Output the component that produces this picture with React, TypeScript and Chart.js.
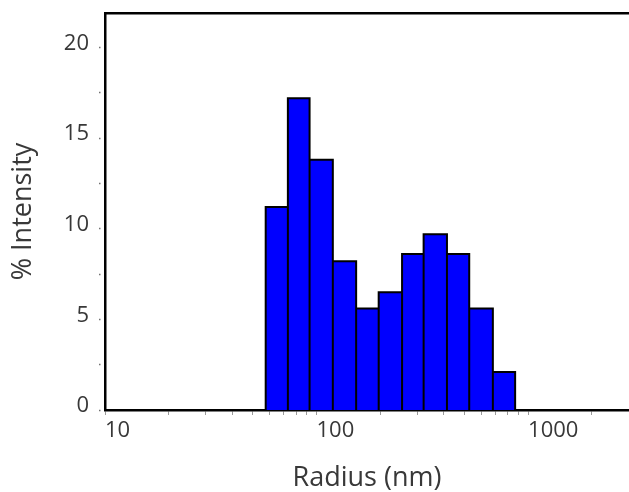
import React, { useEffect, useRef } from "react";
import { Chart, registerables } from "chart.js";

Chart.register(...registerables);

// Bin edges (nm) of the size distribution histogram (log-spaced)
const binEdges = [57.5, 73.2, 92.7, 119.4, 153.9, 196.7, 253.7, 320.8, 413.6, 527, 681.6, 868.6];
// % Intensity in each bin
const intensity = [11.2, 17.2, 13.8, 8.2, 5.6, 6.5, 8.6, 9.7, 8.6, 5.6, 2.1];

// Tick values
const xTickValues = [10, 20, 30, 40, 50, 60, 70, 80, 90, 100, 200, 300, 400, 500, 600, 700, 800, 900, 1000, 2000];
const xTickLabels = [10, 100, 1000];
const yTickValues = [0, 2.5, 5, 7.5, 10, 12.5, 15, 17.5, 20];
const yTickLabels = [0, 5, 10, 15, 20];

const TEXT = "#383838";
const FONT = "'Open Sans', 'Noto Sans', sans-serif";

export default function App() {
  const ref = useRef<HTMLCanvasElement | null>(null);

  useEffect(() => {
    if (!ref.current) return;
    const pts: { x: number; y: number }[] = [];
    intensity.forEach((h, i) => {
      pts.push(
        { x: binEdges[i], y: 0 },
        { x: binEdges[i], y: h },
        { x: binEdges[i + 1], y: h },
        { x: binEdges[i + 1], y: 0 }
      );
    });

    const chart = new Chart(ref.current, {
      type: "line",
      data: {
        datasets: [
          {
            data: pts,
            borderColor: "#000000",
            borderWidth: 2,
            backgroundColor: "#0000ff",
            fill: "origin",
            pointRadius: 0,
            tension: 0,
          },
        ],
      },
      options: {
        animation: false,
        responsive: false,
        events: [],
        layout: { padding: 0 },
        plugins: { legend: { display: false }, tooltip: { enabled: false } },
        scales: {
          x: {
            type: "logarithmic",
            position: "bottom",
            min: 10,
            max: 3000,
            afterBuildTicks: (s: any) => {
              s.ticks = xTickValues.map((v) => ({ value: v }));
            },
            afterFit: (s: any) => {
              s.height = 82;
            },
            border: { display: true, color: "#000000", width: 2.5 },
            grid: {
              drawOnChartArea: false,
              drawTicks: true,
              tickLength: 5,
              tickColor: "#9a9a9a",
              tickWidth: 1,
            },
            ticks: {
              autoSkip: false,
              maxRotation: 0,
              align: "start",
              padding: 3,
              color: TEXT,
              font: { family: FONT, size: 22 },
              callback: (v: any) => (xTickLabels.includes(Number(v)) ? String(v) : ""),
            },
            title: {
              display: true,
              text: "Radius (nm)",
              color: TEXT,
              font: { family: FONT, size: 27, lineHeight: 1 },
              padding: { top: 0, bottom: 0 },
            },
          },
          x2: {
            type: "linear",
            position: "top",
            min: 0,
            max: 1,
            afterFit: (s: any) => {
              s.height = 13;
            },
            border: { display: true, color: "#000000", width: 2.5 },
            grid: { drawOnChartArea: false, drawTicks: false },
            ticks: { display: false },
          },
          y: {
            type: "linear",
            position: "left",
            min: 0,
            max: 21.9,
            afterBuildTicks: (s: any) => {
              s.ticks = yTickValues.map((v) => ({ value: v }));
            },
            afterFit: (s: any) => {
              s.width = 105;
            },
            border: { display: true, color: "#000000", width: 2.5 },
            grid: {
              drawOnChartArea: false,
              drawTicks: true,
              tickLength: 16,
              tickColor: "#707070",
              tickWidth: 1.5,
              tickBorderDash: [0, 10, 1.5, 30],
            },
            ticks: {
              autoSkip: false,
              padding: 0,
              labelOffset: -4,
              color: TEXT,
              font: { family: FONT, size: 22, lineHeight: 1 },
              callback: (v: any) => (yTickLabels.includes(Number(v)) ? String(v) : ""),
            },
            title: {
              display: true,
              text: "% Intensity",
              color: TEXT,
              font: { family: FONT, size: 27, lineHeight: 1 },
              padding: { top: 10, bottom: 0 },
            },
          },
        },
      },
    });
    return () => chart.destroy();
  }, []);

  return (
    <div style={{ position: "fixed", left: 0, top: 0, width: 629, height: 492, background: "#ffffff" }}>
      <canvas ref={ref} width={629} height={492} style={{ display: "block" }} />
    </div>
  );
}
